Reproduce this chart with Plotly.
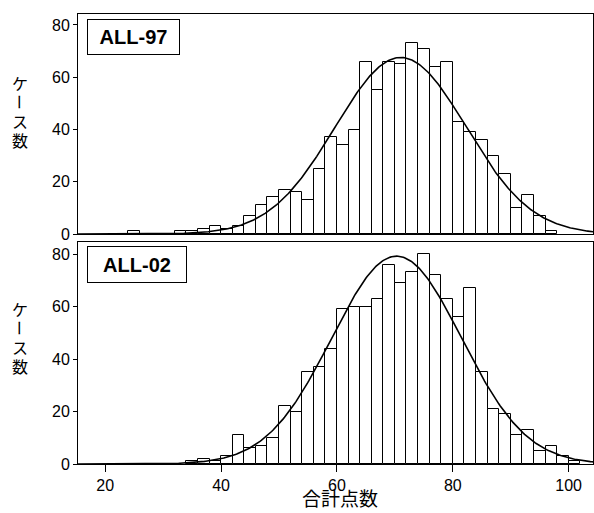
import numpy as np
import plotly.graph_objects as go
from plotly.subplots import make_subplots

# ---- data (bin left edges, bin width 2) ----
bin_width = 2
bins_97 = [24, 32, 34, 36, 38, 40, 42, 44, 46, 48, 50, 52, 54, 56, 58, 60, 62, 64, 66, 68,
           70, 72, 74, 76, 78, 80, 82, 84, 86, 88, 90, 92, 94, 96]
counts_97 = [1, 1, 1, 2, 3, 2, 3, 7, 11, 14, 17, 16, 13, 25, 37, 34, 40, 66, 55, 66,
             65, 73, 71, 64, 66, 43, 39, 36, 30, 23, 10, 15, 7, 1]
bins_02 = [34, 36, 38, 40, 42, 44, 46, 48, 50, 52, 54, 56, 58, 60, 62, 64, 66, 68, 70, 72,
           74, 76, 78, 80, 82, 84, 86, 88, 90, 92, 94, 96, 98, 100]
counts_02 = [1, 2, 1, 3, 11, 6, 7, 10, 22, 20, 35, 37, 44, 59, 60, 60, 63, 76, 69, 73,
             80, 72, 63, 56, 67, 35, 21, 19, 11, 13, 5, 7, 3, 1]
# fitted normal curve parameters
mean_97, sd_97 = 71.0, 11.3
mean_02, sd_02 = 70.3, 11.2

panel_labels = ["ALL-97", "ALL-02"]
x_ticks = [20, 40, 60, 80, 100]
y_ticks = [0, 20, 40, 60, 80]
x_title = "合計点数"
y_title = "ケース数"

X_RANGE = [15.3, 104.2]


def normal_curve(mean, sd, counts):
    n = sum(counts)
    xs = np.linspace(X_RANGE[0], X_RANGE[1], 400)
    ys = n * bin_width / (sd * np.sqrt(2 * np.pi)) * np.exp(-0.5 * ((xs - mean) / sd) ** 2)
    return xs, ys


fig = make_subplots(rows=2, cols=1, shared_xaxes=False, vertical_spacing=0.0)

latin = "Liberation Sans, Arial, sans-serif"
cjk = "Noto Sans CJK JP"

for row, (bins, counts, mean, sd) in enumerate(
        [(bins_97, counts_97, mean_97, sd_97), (bins_02, counts_02, mean_02, sd_02)], start=1):
    centers = [b + bin_width / 2 for b in bins]
    fig.add_trace(go.Bar(x=centers, y=counts, width=bin_width,
                         marker=dict(color="white", line=dict(color="black", width=1)),
                         showlegend=False), row=row, col=1)
    xs, ys = normal_curve(mean, sd, counts)
    fig.add_trace(go.Scatter(x=xs, y=ys, mode="lines",
                             line=dict(color="black", width=1.6), showlegend=False),
                  row=row, col=1)

fig.update_layout(
    width=594, height=513,
    margin=dict(l=78, r=1, t=14, b=49),
    paper_bgcolor="white", plot_bgcolor="white",
    bargap=0,
    font=dict(family=latin, size=16, color="black"),
)

fig.update_layout(
    yaxis=dict(domain=[0.511, 1.0]),
    yaxis2=dict(domain=[0.0, 0.4933]),
)

axis_common = dict(showline=True, linecolor="black", linewidth=1, mirror=True,
                   showgrid=False, zeroline=False)
fig.update_xaxes(range=X_RANGE, **axis_common)
fig.update_xaxes(showticklabels=False, ticks="", row=1, col=1)
fig.update_xaxes(tickvals=x_ticks, ticks="outside", ticklen=7, tickcolor="black",
                 tickfont=dict(family=latin, size=16), row=2, col=1)
fig.update_yaxes(tickvals=y_ticks, ticks="outside", ticklen=4, tickcolor="black",
                 tickfont=dict(family=latin, size=16), **axis_common)
fig.update_yaxes(range=[0, 84.2], row=1, col=1)
fig.update_yaxes(range=[0, 84.6], row=2, col=1)

PLOT_TOP, PLOT_BOTTOM, PLOT_LEFT, PLOT_W = 14, 464, 78, 515
H = PLOT_BOTTOM - PLOT_TOP


def px_x(p):
    return (p - PLOT_LEFT) / PLOT_W


def px_y(p):
    return (PLOT_BOTTOM - p) / H


# panel label boxes
for label, top, w, h in [(panel_labels[0], 19, 91, 34), (panel_labels[1], 246, 98, 35)]:
    fig.add_annotation(xref="paper", yref="paper", x=px_x(87), y=px_y(top),
                       xanchor="left", yanchor="top", text="<b>%s</b>" % label,
                       showarrow=False, width=w, height=h, align="center",
                       font=dict(family=latin, size=20, color="black"),
                       bgcolor="white", bordercolor="black", borderwidth=1, borderpad=0)

# vertical y-axis titles (stacked characters)
for centers in ([83, 102, 121, 140], [309, 328, 347, 366]):
    for ch, cy in zip(y_title, centers):
        fig.add_annotation(xref="paper", yref="paper", x=px_x(20), y=px_y(cy),
                           xanchor="center", yanchor="middle", text=ch, showarrow=False,
                           textangle=90 if ch == "ー" else 0,
                           font=dict(family=cjk, size=16, color="black"))

# x-axis title
fig.add_annotation(xref="paper", yref="paper", x=px_x(340), y=px_y(513),
                   xanchor="center", yanchor="bottom", text=x_title, showarrow=False,
                   font=dict(family=cjk, size=19, color="black"))

fig.write_html("out.html", config={"displayModeBar": False},
               post_script="document.body.style.margin='0';document.body.style.padding='0';")
